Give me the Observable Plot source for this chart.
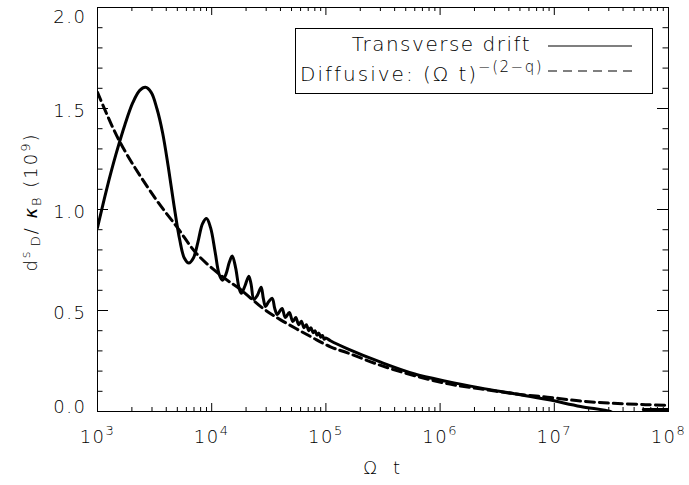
<!DOCTYPE html>
<html><head><meta charset="utf-8">
<script src="https://cdn.jsdelivr.net/npm/d3@7"></script>
<script src="https://cdn.jsdelivr.net/npm/@observablehq/plot@0.6"></script>
<style>
body{margin:0;background:#fff;}
#chart svg text{font-family:"DejaVu Sans",sans-serif;font-weight:200;fill:#000;}
</style></head><body><div id="chart"></div>
<script>
// Transverse drift (solid): log10(Omega t) and d^s_D/kappa_B (1e9)
const solidLogT = [3.00,3.08,3.16,3.24,3.31,3.37,3.42,3.47,3.52,3.57,3.62,3.67,3.72,3.76,3.80,3.84,3.88,3.92,3.955,3.99,4.03,4.065,4.095,4.125,4.155,4.18,4.21,4.24,4.26,4.29,4.325,4.345,4.369,4.40,4.433,4.452,4.471,4.50,4.53,4.552,4.574,4.60,4.617,4.645,4.68,4.71,4.736,4.762,4.785,4.808,4.829,4.85,4.869,4.888,4.905,4.922,4.939,4.955,4.970,4.985,5.00,5.04,5.19,5.48,5.77,6.06,6.35,6.65,6.94,7.23,7.49,7.52];
const solidY    = [0.91,1.10,1.27,1.42,1.53,1.59,1.605,1.58,1.50,1.38,1.21,1.02,0.85,0.76,0.735,0.76,0.84,0.93,0.955,0.91,0.79,0.68,0.65,0.68,0.74,0.77,0.71,0.61,0.585,0.62,0.67,0.63,0.555,0.575,0.615,0.56,0.52,0.545,0.56,0.51,0.48,0.50,0.51,0.465,0.49,0.445,0.465,0.43,0.447,0.415,0.43,0.40,0.415,0.39,0.40,0.378,0.388,0.368,0.376,0.358,0.364,0.35,0.31,0.244,0.187,0.149,0.117,0.088,0.059,0.025,0.0,-0.01];
// last short piece of the solid curve lying on the axis
const solidTailLogT = [7.78,8.0];
const solidTailY = [0.01,0.01];
// Diffusive (dashed)
const dashLogT = [3.0,3.2,3.5,3.7,3.87,4.1,4.25,4.45,4.6,4.87,5.04,5.19,5.48,5.77,6.06,6.35,6.65,6.94,7.23,7.5,7.8,8.0];
const dashY    = [1.58,1.33,1.06,0.91,0.78,0.665,0.605,0.51,0.455,0.37,0.32,0.29,0.228,0.178,0.138,0.112,0.088,0.071,0.052,0.041,0.034,0.030];

const xTickExps = [3,4,5,6,7,8];
const yMajorTicks = [0,0.5,1.0,1.5,2.0];
const yMinorTicks = [0.1,0.2,0.3,0.4,0.6,0.7,0.8,0.9,1.1,1.2,1.3,1.4,1.6,1.7,1.8,1.9];
const legendLabels = ["Transverse drift","Diffusive: (\u03A9 t)"];
const legendSup = "\u2212(2\u2212q)";

const solid = solidLogT.map((l,i)=>({t:10**l, v:solidY[i], seg:0}))
  .concat(solidTailLogT.map((l,i)=>({t:10**l, v:solidTailY[i], seg:1})));
const dashed = dashLogT.map((l,i)=>({t:10**l, v:dashY[i]}));
const xMajor = xTickExps.map(e=>10**e);
const xMinor = [];
for (const e of xTickExps.slice(0,-1)) for (let m=2;m<=9;m++) xMinor.push(m*10**e);

const W=689,H=485,mL=97,mR=21,mT=7,mB=74;
const pw=W-mL-mR, ph=H-mT-mB;

const chart = Plot.plot({
  width:W, height:H, marginLeft:mL, marginRight:mR, marginTop:mT, marginBottom:mB,
  x:{type:"log", domain:[1e3,1e8]},
  y:{domain:[0,2]},
  style:{fontSize:"18px", color:"#000", background:"#fff", overflow:"visible"},
  marks:[
    Plot.line(dashed,{x:"t",y:"v",stroke:"#000",strokeWidth:3,strokeDasharray:"9,5",curve:"catmull-rom",clip:true}),
    Plot.line(solid,{x:"t",y:"v",z:"seg",stroke:"#000",strokeWidth:3,curve:"catmull-rom",clip:true}),
    Plot.frame({stroke:"#000",strokeWidth:1}),
    Plot.tickX(xMajor,{x:d=>d,insetTop:ph-8}),
    Plot.tickX(xMajor,{x:d=>d,insetBottom:ph-8}),
    Plot.tickX(xMinor,{x:d=>d,insetTop:ph-4}),
    Plot.tickX(xMinor,{x:d=>d,insetBottom:ph-4}),
    Plot.tickY(yMajorTicks,{y:d=>d,insetRight:pw-11}),
    Plot.tickY(yMajorTicks,{y:d=>d,insetLeft:pw-11}),
    Plot.tickY(yMinorTicks,{y:d=>d,insetRight:pw-5.5}),
    Plot.tickY(yMinorTicks,{y:d=>d,insetLeft:pw-5.5}),
    Plot.axisX({ticks:xMajor,tickSize:0,tickPadding:19,tickFormat:d=>"10^"+Math.round(Math.log10(d)),label:null}),
    Plot.axisY({ticks:yMajorTicks,tickSize:0,tickPadding:11,tickFormat:d3.format(".1f"),label:null})
  ]
});
document.getElementById("chart").appendChild(chart);
const svg = d3.select(chart);
svg.selectAll("text").style("letter-spacing","1.5px");

// superscript exponents on x tick labels
svg.selectAll('[aria-label="x-axis tick label"] text').each(function(){
  const [b,e] = this.textContent.split("^");
  const s = d3.select(this); s.text("");
  s.append("tspan").text(b);
  s.append("tspan").attr("dy","-8").attr("font-size","13px").text(e);
});
// y tick label vertical placement
svg.selectAll('[aria-label="y-axis tick label"] text').each(function(){
  const t=this.textContent;
  d3.select(this).attr("dy", t==="2.0"?"9.5px":t==="0.0"?"-4.5px":"2.5px");
});

const cx = (mL + (W-mR))/2;
// axis titles
svg.append("text").attr("x",cx).attr("y",474).attr("text-anchor","middle")
  .style("font-size","18px").style("letter-spacing","1.5px").text("\u03A9  t");
const yl = svg.append("text").attr("transform",`translate(37,${mT+ph/2-7}) rotate(-90)`)
  .attr("text-anchor","middle").style("font-size","18px").style("letter-spacing","2px");
yl.append("tspan").text("d");
yl.append("tspan").attr("dy",-7).style("font-size","13px").text("s");
yl.append("tspan").attr("dy",10).attr("dx",3).style("font-size","13px").text("D");
yl.append("tspan").attr("dy",-3).text("/ ");
yl.append("tspan").style("font-style","italic").text("\u03BA");
yl.append("tspan").attr("dy",4).style("font-size","13px").text("B");
yl.append("tspan").attr("dy",-4).text(" (10");
yl.append("tspan").attr("dy",-7).style("font-size","13px").text("9");
yl.append("tspan").attr("dy",7).text(")");

// legend box
const lg = svg.append("g");
lg.append("rect").attr("x",295.5).attr("y",28.5).attr("width",357).attr("height",65)
  .attr("fill","#fff").attr("stroke","#000").attr("stroke-width",1);
lg.append("text").attr("x",531).attr("y",51).attr("text-anchor","end")
  .style("font-size","20px").style("letter-spacing","1.5px").text(legendLabels[0]);
const l2 = lg.append("text").attr("x",543).attr("y",81).attr("text-anchor","end")
  .style("font-size","20px").style("letter-spacing","2px");
l2.append("tspan").text(legendLabels[1]);
l2.append("tspan").attr("dy",-9).style("font-size","15px").style("letter-spacing","1.5px").text(legendSup);
lg.append("line").attr("x1",548).attr("x2",632).attr("y1",46).attr("y2",46).attr("stroke","#000").attr("stroke-width",1.2);
lg.append("line").attr("x1",548).attr("x2",632).attr("y1",71).attr("y2",71).attr("stroke","#000").attr("stroke-width",1.2).attr("stroke-dasharray","9,6");
</script></body></html>
